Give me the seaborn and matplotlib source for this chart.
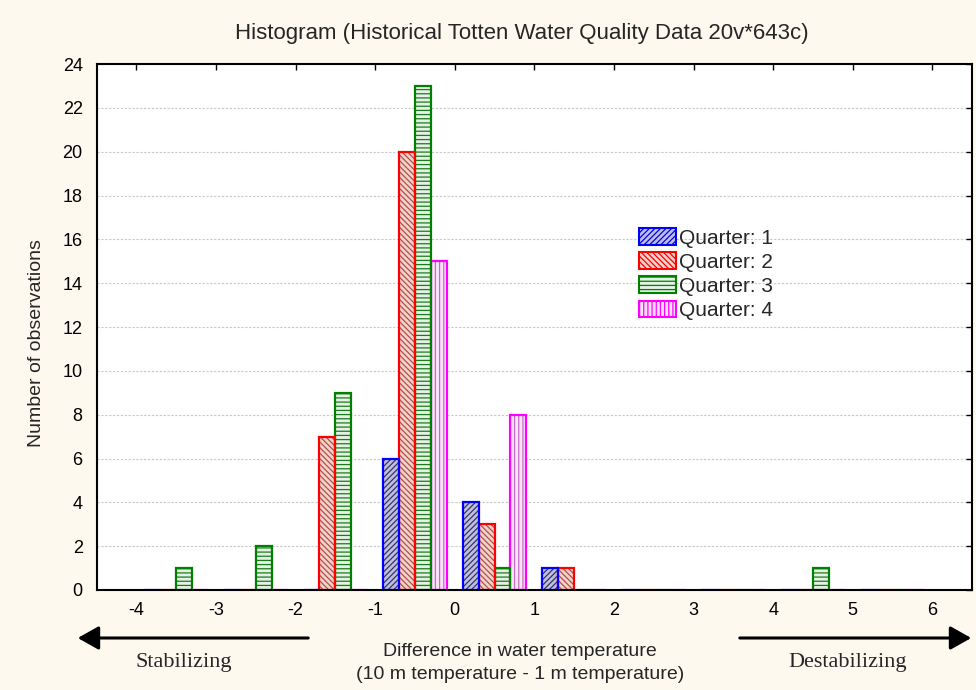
import numpy as np
import pandas as pd
import matplotlib
matplotlib.use("Agg")
import matplotlib.pyplot as plt
import seaborn as sns
from matplotlib.patches import Patch, FancyArrowPatch

# Histogram counts per 1-degree bin (bin centres) for each quarter
bin_centers = [-3.5, -2.5, -1.5, -0.5, 0.5, 1.5, 2.5, 3.5, 4.5, 5.5]
quarters = ["Quarter: 1", "Quarter: 2", "Quarter: 3", "Quarter: 4"]
q1_counts = [0, 0, 0, 6, 4, 1, 0, 0, 0, 0]
q2_counts = [0, 0, 7, 20, 3, 1, 0, 0, 0, 0]
q3_counts = [1, 2, 9, 23, 1, 0, 0, 0, 1, 0]
q4_counts = [0, 0, 0, 15, 8, 0, 0, 0, 0, 0]
bin_edges = [-4, -3, -2, -1, 0, 1, 2, 3, 4, 5, 6]
x_ticks = [-4, -3, -2, -1, 0, 1, 2, 3, 4, 5, 6]
y_ticks = [0, 2, 4, 6, 8, 10, 12, 14, 16, 18, 20, 22, 24]

title = "Histogram (Historical Totten Water Quality Data 20v*643c)"
x_label = "Difference in water temperature\n(10 m temperature - 1 m temperature)"
y_label = "Number of observations"

# styling per quarter
edge_colors = ["#0000ff", "#ff0000", "#008000", "#ff00ff"]
fill_colors = ["#c0c0dc", "#f2d2cc", "#e4f2e4", "#fbe4fb"]
hatch_colors = ["#34346e", "#b0504a", "#1f7a1f", "#c070c0"]
hatches = ["//////", "\\\\\\\\\\\\", "----", "||||"]

df = pd.DataFrame({
    "diff": bin_centers * 4,
    "count": q1_counts + q2_counts + q3_counts + q4_counts,
    "quarter": [q for q in quarters for _ in bin_centers],
})

sns.set_style("white")
plt.rcParams["font.family"] = ["Liberation Sans", "DejaVu Sans"]
plt.rcParams["hatch.linewidth"] = 0.9

bg = "#fdf9ee"
fig = plt.figure(figsize=(9.76, 6.90), dpi=100, facecolor=bg)
ax = fig.add_axes([0.099, 0.145, 0.897, 0.762])
ax.set_facecolor("white")

# hatched fills
sns.histplot(data=df, x="diff", weights="count", hue="quarter", hue_order=quarters,
             bins=bin_edges, multiple="dodge", shrink=0.8, palette=fill_colors,
             alpha=1, linewidth=0, legend=False, ax=ax)
fill_rgb = [matplotlib.colors.to_rgba(c) for c in fill_colors]
for cont in ax.containers:
    fc = cont.patches[0].get_facecolor()
    idx = int(np.argmin([np.sum((np.array(fc) - np.array(c)) ** 2) for c in fill_rgb]))
    for p in cont.patches:
        p.set_hatch(hatches[idx])
        p.set_edgecolor(hatch_colors[idx])
        p.set_linewidth(0)

# bright outlines on top
sns.histplot(data=df, x="diff", weights="count", hue="quarter", hue_order=quarters,
             bins=bin_edges, multiple="dodge", shrink=0.8, palette=edge_colors,
             fill=False, linewidth=1.6, legend=False, ax=ax)

ax.set_xlim(-4.5, 6.5)
ax.set_ylim(0, 24)
ax.set_xticks(x_ticks)
ax.set_xticklabels([str(t) for t in x_ticks])
ax.set_yticks(y_ticks)
ax.set_yticklabels([str(t) for t in y_ticks])
ax.yaxis.grid(True, color="#c8c8c8", linestyle=(0, (2, 1.5)), linewidth=0.8)
ax.set_axisbelow(True)
for s in ax.spines.values():
    s.set_visible(True)
    s.set_color("black")
    s.set_linewidth(1.5)
ax.tick_params(axis="both", which="both", direction="in", length=4, width=1,
               top=True, right=True, labelsize=13, colors="black")
ax.tick_params(axis="y", pad=10)
ax.tick_params(axis="x", pad=9)
ax.set_xlabel("")
ax.set_ylabel(y_label, fontsize=14, labelpad=9)
ax.yaxis.set_label_coords(-0.0594, 0.469)

fig.text(0.535, 0.952, title, ha="center", va="center", fontsize=16)
fig.text(0.533, 0.039, x_label, ha="center", va="center", fontsize=14, linespacing=1.5)

# direction arrows
fig.add_artist(FancyArrowPatch(
    (311 / 976, 1 - 638 / 690), (75 / 976, 1 - 638 / 690), transform=fig.transFigure,
    arrowstyle="-|>,head_length=8,head_width=4.5", mutation_scale=1.6, color="black", lw=2.2))
fig.add_artist(FancyArrowPatch(
    (737 / 976, 1 - 638 / 690), (974 / 976, 1 - 638 / 690), transform=fig.transFigure,
    arrowstyle="-|>,head_length=8,head_width=4.5", mutation_scale=1.6, color="black", lw=2.2))
fig.text(184 / 976, 1 - 662 / 690, "Stabilizing", ha="center", va="center", fontsize=16,
         family=["Liberation Serif", "DejaVu Serif"])
fig.text(848 / 976, 1 - 662 / 690, "Destabilizing", ha="center", va="center", fontsize=16,
         family=["Liberation Serif", "DejaVu Serif"])

handles = [Patch(facecolor=fill_colors[i], edgecolor=edge_colors[i], hatch=hatches[i],
                 linewidth=1.5, label=quarters[i]) for i in range(4)]
ax.legend(handles=handles, loc="upper left", bbox_to_anchor=(0.620, 0.688),
          frameon=False, fontsize=15, handlelength=1.75, handleheight=0.85,
          handletextpad=0.15, labelspacing=0.22, borderpad=0, borderaxespad=0)

fig.savefig("out.png", dpi=100, facecolor=bg)
